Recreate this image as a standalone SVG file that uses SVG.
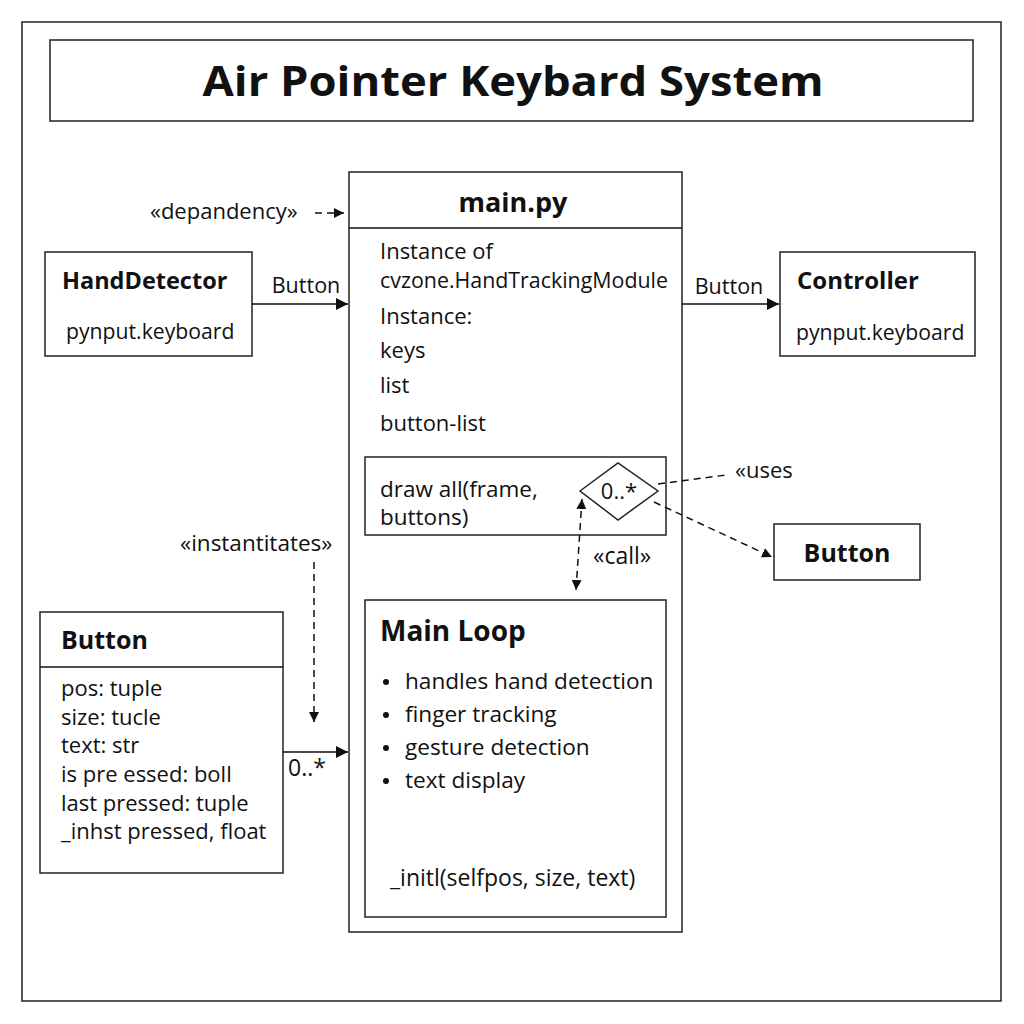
<svg xmlns="http://www.w3.org/2000/svg" width="1024" height="1024" viewBox="0 0 1024 1024">
<defs>
<marker id="arr" viewBox="0 0 10 10" refX="10" refY="5" markerWidth="10" markerHeight="10" markerUnits="userSpaceOnUse" orient="auto-start-reverse"><path d="M0,0 L10,5 L0,10 z" fill="#111"/></marker>
<marker id="arrL" viewBox="0 0 10 10" refX="10" refY="5" markerWidth="14" markerHeight="12" markerUnits="userSpaceOnUse" orient="auto-start-reverse"><path d="M0,0 L10,5 L0,10 z" fill="#111"/></marker>
<style>
.box{fill:#fff;stroke:#222;stroke-width:1.5}
.t{font-family:"Open Sans","Noto Sans",sans-serif;fill:#111}
.b{font-family:"Open Sans","Noto Sans",sans-serif;font-weight:bold;fill:#111}
.ln{stroke:#111;stroke-width:1.5;fill:none}
.dash{stroke:#111;stroke-width:1.5;fill:none;stroke-dasharray:7 5}
</style>
</defs>
<rect width="1024" height="1024" fill="#fff"/>
<rect x="22" y="22" width="979" height="979" fill="none" stroke="#222" stroke-width="1.5"/>
<g id="title">
<rect class="box" x="50" y="40" width="923" height="81"/>
<text class="b" x="513" y="96" font-size="42" text-anchor="middle" textLength="621" lengthAdjust="spacingAndGlyphs">Air Pointer Keybard System</text>
</g>
<g id="main">
<rect class="box" x="349" y="172" width="333" height="760"/>
<line class="ln" x1="349" y1="228" x2="682" y2="228"/>
<text class="b" x="513" y="212" font-size="27" text-anchor="middle">main.py</text>
<text class="t" x="380" y="259" font-size="22">Instance of</text>
<text class="t" x="380" y="288" font-size="22" textLength="288" lengthAdjust="spacingAndGlyphs">cvzone.HandTrackingModule</text>
<text class="t" x="380" y="324" font-size="22">Instance:</text>
<text class="t" x="380" y="358" font-size="22">keys</text>
<text class="t" x="380" y="393" font-size="22">list</text>
<text class="t" x="380" y="431" font-size="22">button-list</text>
</g>
<g id="drawall">
<rect class="box" x="365" y="457" width="301" height="78"/>
<text class="t" x="380" y="497" font-size="22.5">draw all(frame,</text>
<text class="t" x="380" y="525" font-size="22.5">buttons)</text>
<polygon class="box" points="580,491 618,463 658,491 618,520"/>
<text class="t" x="619" y="499" font-size="22" text-anchor="middle">0..*</text>
</g>
<g id="mainloop">
<rect class="box" x="365" y="600" width="301" height="317"/>
<text class="b" x="380" y="641" font-size="28">Main Loop</text>
<circle cx="386" cy="682" r="3" fill="#111"/>
<circle cx="386" cy="715" r="3" fill="#111"/>
<circle cx="386" cy="748" r="3" fill="#111"/>
<circle cx="386" cy="781" r="3" fill="#111"/>
<text class="t" x="405" y="689" font-size="22.6">handles hand detection</text>
<text class="t" x="405" y="722" font-size="22.6">finger tracking</text>
<text class="t" x="405" y="755" font-size="22.6">gesture detection</text>
<text class="t" x="405" y="788" font-size="22.6">text display</text>
<text class="t" x="390" y="886" font-size="23">_initl(selfpos, size, text)</text>
</g>
<g id="handdetector">
<rect class="box" x="45" y="252" width="207" height="104"/>
<text class="b" x="62" y="289" font-size="23.5">HandDetector</text>
<text class="t" x="66" y="339" font-size="21.2">pynput.keyboard</text>
</g>
<g id="controller">
<rect class="box" x="780" y="252" width="195" height="104"/>
<text class="b" x="797" y="289" font-size="24">Controller</text>
<text class="t" x="796" y="340" font-size="21.2">pynput.keyboard</text>
</g>
<g id="buttonref">
<rect class="box" x="774" y="524" width="146" height="56"/>
<text class="b" x="847" y="562" font-size="25" text-anchor="middle">Button</text>
</g>
<g id="buttonclass">
<rect class="box" x="40" y="612" width="243" height="261"/>
<line class="ln" x1="40" y1="667" x2="283" y2="667"/>
<text class="b" x="61" y="649" font-size="25">Button</text>
<text class="t" x="61" y="696" font-size="22">pos: tuple</text>
<text class="t" x="61" y="725" font-size="22">size: tucle</text>
<text class="t" x="61" y="753" font-size="22">text: str</text>
<text class="t" x="61" y="782" font-size="22">is pre essed: boll</text>
<text class="t" x="61" y="811" font-size="22">last pressed: tuple</text>
<text class="t" x="61" y="839" font-size="22">_inhst pressed, float</text>
</g>
<g id="connectors">
<line class="ln" x1="252" y1="304" x2="348" y2="304" marker-end="url(#arrL)"/>
<text class="t" x="306" y="293" text-anchor="middle" font-size="21.5">Button</text>
<line class="ln" x1="682" y1="304" x2="779" y2="304" marker-end="url(#arrL)"/>
<text class="t" x="729" y="294" text-anchor="middle" font-size="21.5">Button</text>
<text class="t" x="150" y="219" font-size="22">«depandency»</text>
<line class="dash" x1="315" y1="213" x2="344" y2="213" marker-end="url(#arr)" stroke-dasharray="6 5"/>
<line class="dash" x1="658" y1="484" x2="726" y2="475"/>
<text class="t" x="735" y="478" font-size="22">«uses</text>
<line class="dash" x1="654" y1="502" x2="772" y2="557" marker-end="url(#arr)"/>
<text class="t" x="593" y="564" font-size="23">«call»</text>
<line class="dash" x1="582" y1="499" x2="576" y2="590" marker-start="url(#arr)" marker-end="url(#arr)"/>
<text class="t" x="180" y="551" font-size="22.5">«instantitates»</text>
<line class="dash" x1="314" y1="562" x2="314" y2="722" marker-end="url(#arr)"/>
<line class="ln" x1="283" y1="752" x2="348" y2="752" marker-end="url(#arrL)"/>
<text class="t" x="288" y="776" font-size="23">0..*</text>
</g>
</svg>
